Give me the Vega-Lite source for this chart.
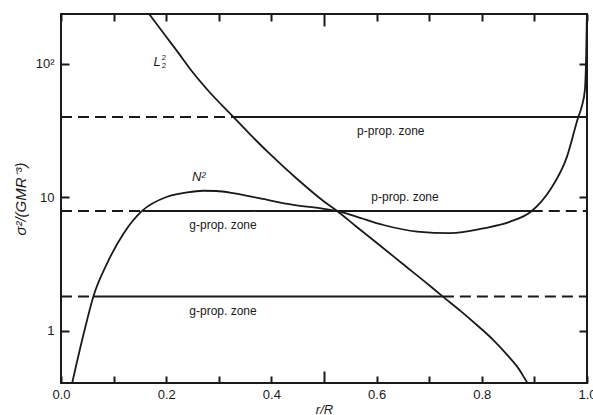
{
  "$schema": "https://vega.github.io/schema/vega-lite/v6.json",
  "width": 526,
  "height": 369,
  "autosize": "none",
  "padding": {"left": 61, "top": 14, "right": 6, "bottom": 32},
  "config": {
    "view": {"stroke": "#1a1a1a", "strokeWidth": 2},
    "font": "Liberation Sans"
  },
  "datasets": {
    "levels": [
      {"level": 40, "r0": 0, "r1": 0.328, "kind": "dashed"},
      {"level": 40, "r0": 0.328, "r1": 1, "kind": "solid"},
      {"level": 7.9, "r0": 0, "r1": 0.155, "kind": "dashed"},
      {"level": 7.9, "r0": 0.155, "r1": 0.895, "kind": "solid"},
      {"level": 7.9, "r0": 0.895, "r1": 1, "kind": "dashed"},
      {"level": 1.8, "r0": 0, "r1": 0.062, "kind": "dashed"},
      {"level": 1.8, "r0": 0.062, "r1": 0.726, "kind": "solid"},
      {"level": 1.8, "r0": 0.726, "r1": 1, "kind": "dashed"}
    ],
    "curves": [
      {"curve": "L2", "r": 0.160, "f": 260},
      {"curve": "L2", "r": 0.180, "f": 204},
      {"curve": "L2", "r": 0.200, "f": 160},
      {"curve": "L2", "r": 0.220, "f": 126},
      {"curve": "L2", "r": 0.250, "f": 87},
      {"curve": "L2", "r": 0.280, "f": 63},
      {"curve": "L2", "r": 0.328, "f": 40},
      {"curve": "L2", "r": 0.360, "f": 29.5},
      {"curve": "L2", "r": 0.400, "f": 20.6},
      {"curve": "L2", "r": 0.450, "f": 13.6},
      {"curve": "L2", "r": 0.500, "f": 9.3},
      {"curve": "L2", "r": 0.525, "f": 7.9},
      {"curve": "L2", "r": 0.560, "f": 6.1},
      {"curve": "L2", "r": 0.600, "f": 4.56},
      {"curve": "L2", "r": 0.650, "f": 3.16},
      {"curve": "L2", "r": 0.700, "f": 2.19},
      {"curve": "L2", "r": 0.726, "f": 1.8},
      {"curve": "L2", "r": 0.760, "f": 1.40},
      {"curve": "L2", "r": 0.790, "f": 1.107},
      {"curve": "L2", "r": 0.822, "f": 0.85},
      {"curve": "L2", "r": 0.850, "f": 0.647},
      {"curve": "L2", "r": 0.870, "f": 0.519},
      {"curve": "L2", "r": 0.887, "f": 0.405},
      {"curve": "L2", "r": 0.900, "f": 0.347},
      {"curve": "N2", "r": 0.019, "f": 0.37},
      {"curve": "N2", "r": 0.0433, "f": 0.956},
      {"curve": "N2", "r": 0.062, "f": 1.83},
      {"curve": "N2", "r": 0.0877, "f": 3.2},
      {"curve": "N2", "r": 0.1193, "f": 5.38},
      {"curve": "N2", "r": 0.154, "f": 7.9},
      {"curve": "N2", "r": 0.2017, "f": 10.1},
      {"curve": "N2", "r": 0.240, "f": 10.9},
      {"curve": "N2", "r": 0.270, "f": 11.2},
      {"curve": "N2", "r": 0.295, "f": 11.15},
      {"curve": "N2", "r": 0.330, "f": 10.7},
      {"curve": "N2", "r": 0.379, "f": 9.8},
      {"curve": "N2", "r": 0.442, "f": 8.77},
      {"curve": "N2", "r": 0.500, "f": 8.2},
      {"curve": "N2", "r": 0.525, "f": 7.9},
      {"curve": "N2", "r": 0.560, "f": 7.2},
      {"curve": "N2", "r": 0.613, "f": 6.2},
      {"curve": "N2", "r": 0.677, "f": 5.53},
      {"curve": "N2", "r": 0.740, "f": 5.38},
      {"curve": "N2", "r": 0.803, "f": 5.85},
      {"curve": "N2", "r": 0.854, "f": 6.57},
      {"curve": "N2", "r": 0.895, "f": 7.9},
      {"curve": "N2", "r": 0.930, "f": 11.4},
      {"curve": "N2", "r": 0.962, "f": 20.2},
      {"curve": "N2", "r": 0.983, "f": 39.5},
      {"curve": "N2", "r": 0.990, "f": 48},
      {"curve": "N2", "r": 0.996, "f": 64},
      {"curve": "N2", "r": 0.9985, "f": 120},
      {"curve": "N2", "r": 1.0, "f": 260}
    ],
    "zones": [
      {"text": "p-prop. zone", "r": 0.627, "f": 31.6},
      {"text": "p-prop. zone", "r": 0.654, "f": 10.0},
      {"text": "g-prop. zone", "r": 0.308, "f": 6.2},
      {"text": "g-prop. zone", "r": 0.308, "f": 1.405}
    ],
    "names": [
      {"text": "L", "r": 0.1827, "f": 103},
      {"text": "N²", "r": 0.262, "f": 14.3}
    ],
    "indices": [
      {"text": "2", "r": 0.1956, "f": 103}
    ]
  },
  "layer": [
    {
      "data": {"name": "levels"},
      "mark": {"type": "rule", "strokeWidth": 2, "color": "#1a1a1a"},
      "encoding": {
        "x": {
          "field": "r0",
          "type": "quantitative",
          "scale": {"domain": [0, 1], "nice": false, "zero": false},
          "axis": {
            "orient": "bottom",
            "values": [0, 0.1, 0.2, 0.3, 0.4, 0.5, 0.6, 0.7, 0.8, 0.9, 1.0],
            "labelExpr": "round(datum.value * 10) % 2 == 0 ? format(datum.value, '.1f') : ''",
            "domain": false,
            "ticks": false,
            "grid": true,
            "gridColor": "#1a1a1a",
            "gridOpacity": 1,
            "gridWidth": 2,
            "gridDash": {
              "condition": {"test": "datum.value == 0.5", "value": [12, 345, 12, 0]},
              "value": [7, 355, 7, 0]
            },
            "labelPadding": 5,
            "labelFlush": false,
            "labelColor": "#1a1a1a",
            "labelFont": "Liberation Sans",
            "labelFontSize": 13,
            "title": "r/R",
            "titleColor": "#1a1a1a",
            "titleFont": "Liberation Sans",
            "titleFontWeight": "normal",
            "titleFontStyle": "italic",
            "titleFontSize": 13,
            "titlePadding": 2
          }
        },
        "x2": {"field": "r1"},
        "y": {
          "field": "level",
          "type": "quantitative",
          "scale": {"type": "log", "domain": [0.405, 237], "nice": false},
          "axis": {
            "orient": "left",
            "values": [1, 10, 100],
            "labelExpr": "datum.value == 100 ? '10²' : datum.label",
            "domain": false,
            "ticks": false,
            "grid": true,
            "gridColor": "#1a1a1a",
            "gridOpacity": 1,
            "gridWidth": 2,
            "gridDash": [8, 510, 8, 0],
            "labelPadding": 7,
            "labelColor": "#1a1a1a",
            "labelFont": "Liberation Sans",
            "labelFontSize": 13,
            "title": "σ²/(GMR⁻³)",
            "titleColor": "#1a1a1a",
            "titleFont": "Liberation Sans",
            "titleFontWeight": "normal",
            "titleFontStyle": "italic",
            "titleFontSize": 15,
            "titlePadding": 7
          }
        },
        "strokeDash": {
          "condition": {"test": "datum.kind === 'dashed'", "value": [11, 6]},
          "value": [1, 0]
        }
      }
    },
    {
      "data": {"name": "curves"},
      "mark": {"type": "line", "interpolate": "monotone", "strokeWidth": 1.8, "color": "#1a1a1a", "clip": true},
      "encoding": {
        "x": {"field": "r", "type": "quantitative"},
        "y": {"field": "f", "type": "quantitative"},
        "detail": {"field": "curve"},
        "order": {"field": "r", "type": "quantitative"}
      }
    },
    {
      "data": {"name": "zones"},
      "mark": {"type": "text", "fontSize": 12, "color": "#1a1a1a", "font": "Liberation Sans"},
      "encoding": {
        "x": {"field": "r", "type": "quantitative"},
        "y": {"field": "f", "type": "quantitative"},
        "text": {"field": "text"}
      }
    },
    {
      "data": {"name": "names"},
      "mark": {"type": "text", "fontSize": 13, "fontStyle": "italic", "color": "#1a1a1a", "font": "Liberation Sans"},
      "encoding": {
        "x": {"field": "r", "type": "quantitative"},
        "y": {"field": "f", "type": "quantitative"},
        "text": {"field": "text"}
      }
    },
    {
      "data": {"name": "indices"},
      "mark": {"type": "text", "fontSize": 8, "dy": -4, "color": "#1a1a1a", "font": "Liberation Sans"},
      "encoding": {
        "x": {"field": "r", "type": "quantitative"},
        "y": {"field": "f", "type": "quantitative"},
        "text": {"field": "text"}
      }
    },
    {
      "data": {"name": "indices"},
      "mark": {"type": "text", "fontSize": 8, "dy": 4, "color": "#1a1a1a", "font": "Liberation Sans"},
      "encoding": {
        "x": {"field": "r", "type": "quantitative"},
        "y": {"field": "f", "type": "quantitative"},
        "text": {"field": "text"}
      }
    }
  ]
}
